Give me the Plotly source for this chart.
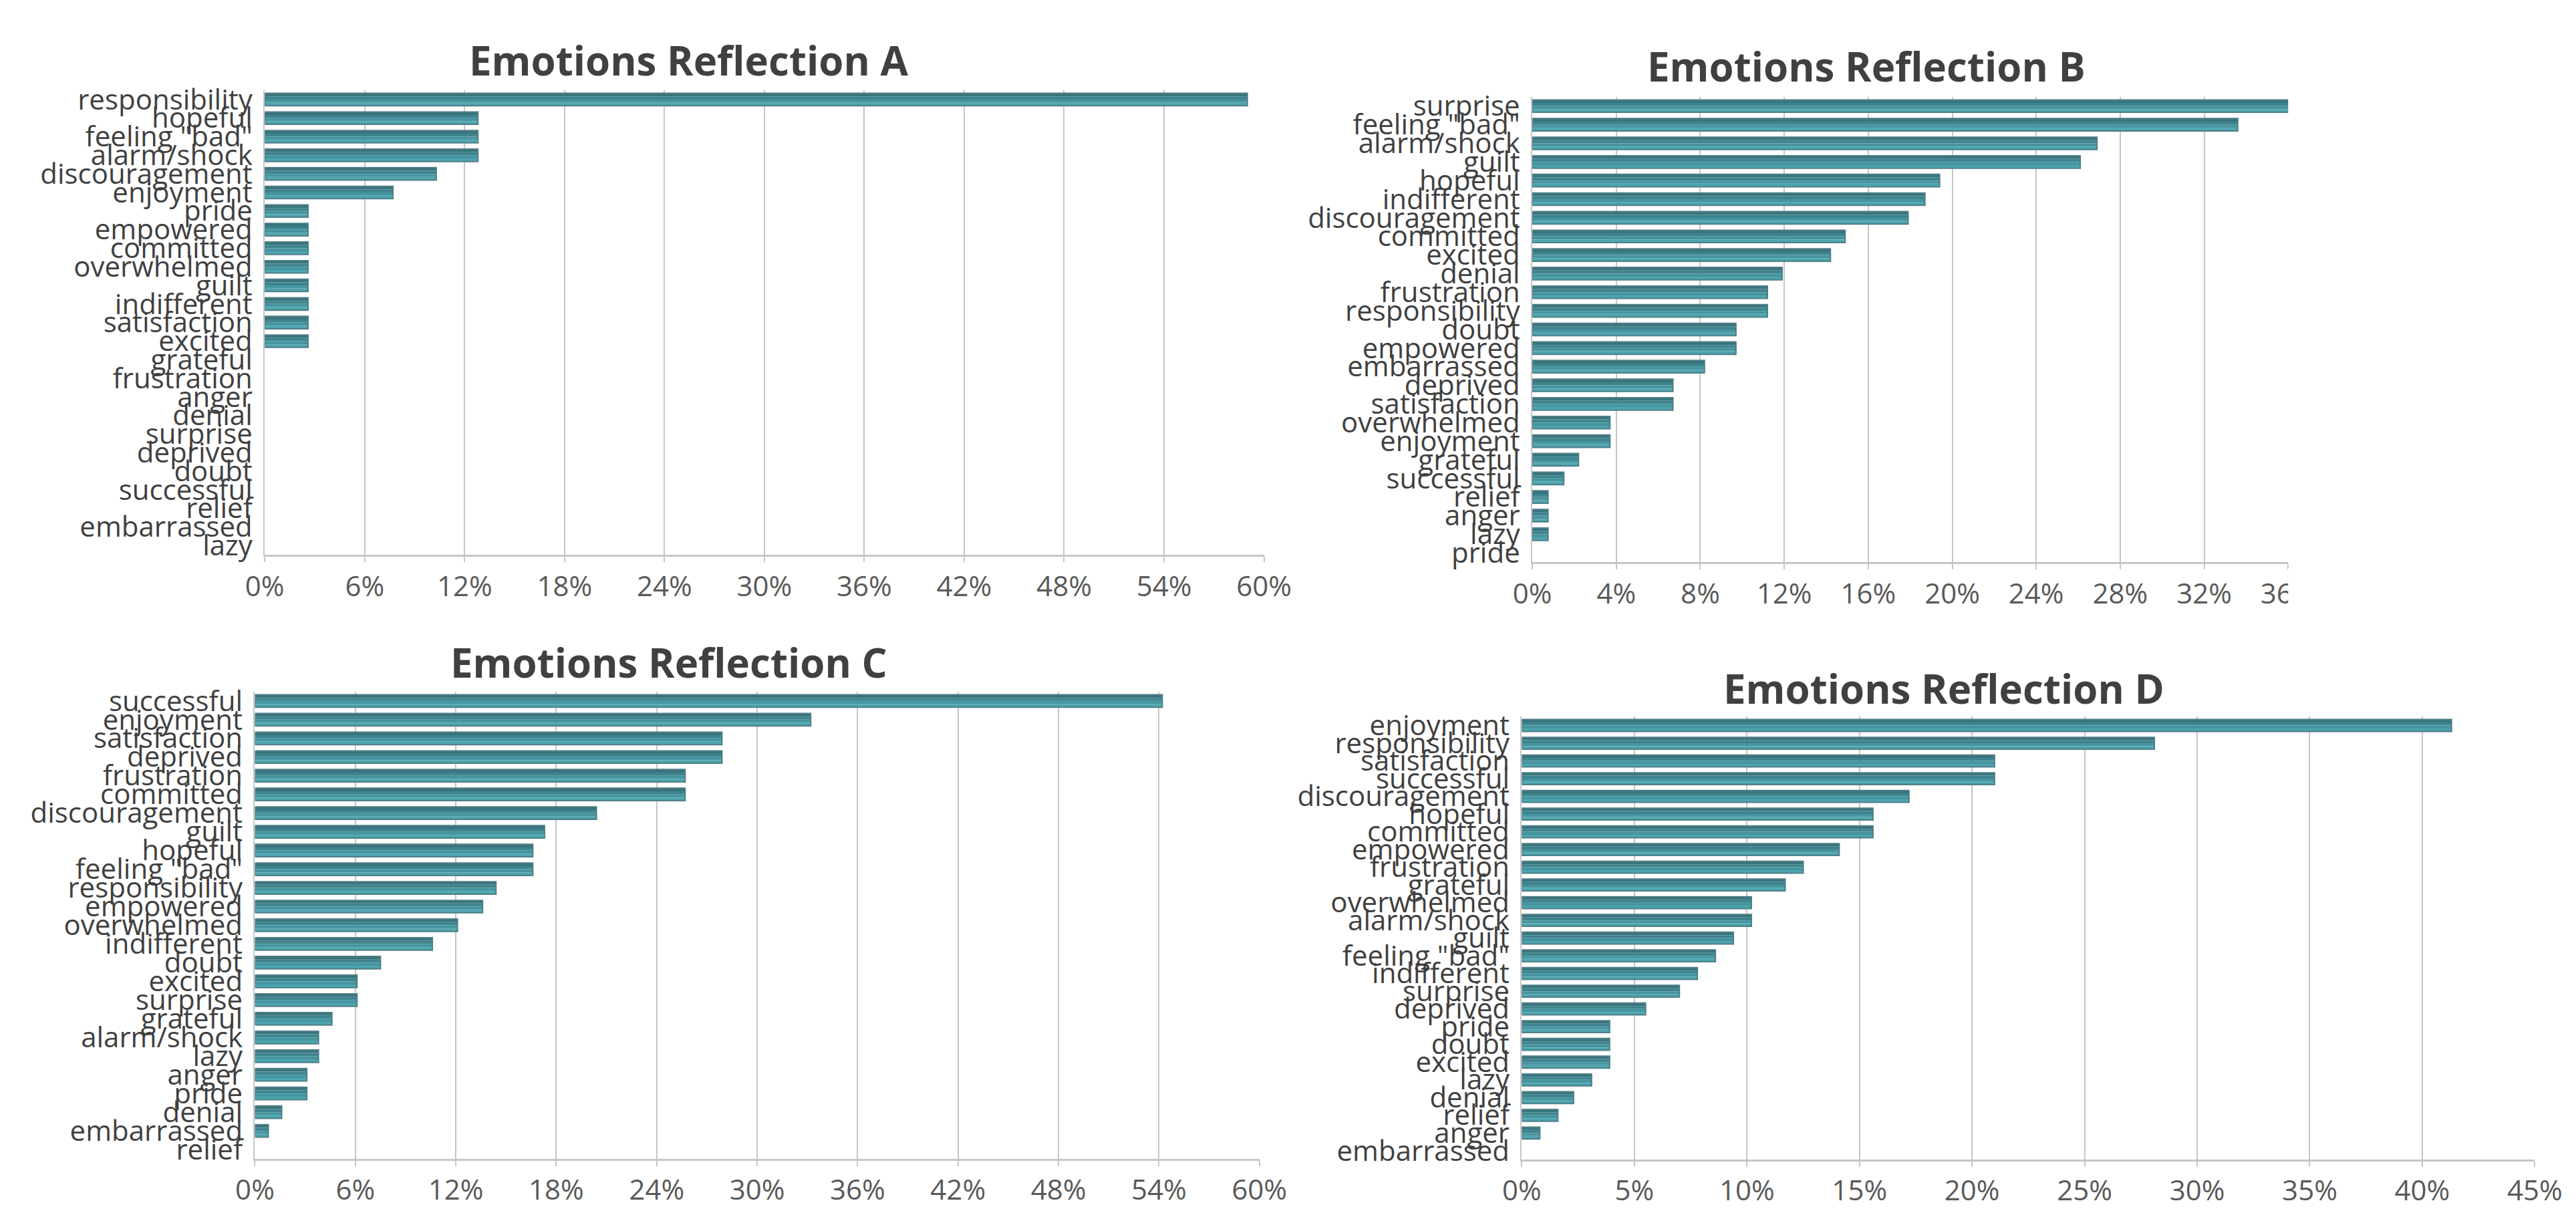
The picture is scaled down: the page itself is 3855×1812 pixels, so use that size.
import plotly.graph_objects as go

W, H = 3855, 1812

# ---------------- data (percent) ----------------
cats_a = ["responsibility", "hopeful", 'feeling "bad"', "alarm/shock", "discouragement",
          "enjoyment", "pride", "empowered", "committed", "overwhelmed", "guilt",
          "indifferent", "satisfaction", "excited", "grateful", "frustration", "anger",
          "denial", "surprise", "deprived", "doubt", "successful", "relief",
          "embarrassed", "lazy"]
vals_a = [59.0, 12.8, 12.8, 12.8, 10.3, 7.7, 2.6, 2.6, 2.6, 2.6, 2.6, 2.6, 2.6, 2.6,
          0, 0, 0, 0, 0, 0, 0, 0, 0, 0, 0]

cats_b = ["surprise", 'feeling "bad"', "alarm/shock", "guilt", "hopeful", "indifferent",
          "discouragement", "committed", "excited", "denial", "frustration",
          "responsibility", "doubt", "empowered", "embarrassed", "deprived",
          "satisfaction", "overwhelmed", "enjoyment", "grateful", "successful",
          "relief", "anger", "lazy", "pride"]
vals_b = [36.6, 33.6, 26.9, 26.1, 19.4, 18.7, 17.9, 14.9, 14.2, 11.9, 11.2, 11.2,
          9.7, 9.7, 8.2, 6.7, 6.7, 3.7, 3.7, 2.2, 1.5, 0.75, 0.75, 0.75, 0]

cats_c = ["successful", "enjoyment", "satisfaction", "deprived", "frustration",
          "committed", "discouragement", "guilt", "hopeful", 'feeling "bad"',
          "responsibility", "empowered", "overwhelmed", "indifferent", "doubt",
          "excited", "surprise", "grateful", "alarm/shock", "lazy", "anger", "pride",
          "denial", "embarrassed", "relief"]
vals_c = [54.2, 33.2, 27.9, 27.9, 25.7, 25.7, 20.4, 17.3, 16.6, 16.6, 14.4, 13.6,
          12.1, 10.6, 7.5, 6.1, 6.1, 4.6, 3.8, 3.8, 3.1, 3.1, 1.6, 0.8, 0]

cats_d = ["enjoyment", "responsibility", "satisfaction", "successful", "discouragement",
          "hopeful", "committed", "empowered", "frustration", "grateful", "overwhelmed",
          "alarm/shock", "guilt", 'feeling "bad"', "indifferent", "surprise", "deprived",
          "pride", "doubt", "excited", "lazy", "denial", "relief", "anger", "embarrassed"]
vals_d = [41.3, 28.1, 21.0, 21.0, 17.2, 15.6, 15.6, 14.1, 12.5, 11.7, 10.2, 10.2,
          9.4, 8.6, 7.8, 7.0, 5.5, 3.9, 3.9, 3.9, 3.1, 2.3, 1.6, 0.8, 0]

titles = ["Emotions Reflection A", "Emotions Reflection B",
          "Emotions Reflection C", "Emotions Reflection D"]
x_max = [0.60, 0.36, 0.60, 0.45]
x_dtick = [0.06, 0.04, 0.06, 0.05]

# ---------------- layout geometry (pixels) ----------------
# (left, right, top, bottom) of each plot area
boxes = [(374, 1897, 120, 827),
         (2306, 3458, 130, 838),
         (359, 1890, 1035, 1746),
         (2290, 3834, 1073, 1747)]
title_pos = [(1020, 74), (2815, 83), (990, 990), (2933, 1030)]

FONT = "Open Sans, Segoe UI, Noto Sans, sans-serif"
GRID = "#c6c6c6"
stripe_cols = ["#39747d", "#3e848e", "#45959f", "#4ca5b0"]
BAR_W = 0.67

fig = go.Figure()
data = [(cats_a, vals_a), (cats_b, vals_b), (cats_c, vals_c), (cats_d, vals_d)]

for i, (cats, vals) in enumerate(data):
    xs = [v / 100 for v in vals]
    xa = "x" if i == 0 else f"x{i+1}"
    ya = "y" if i == 0 else f"y{i+1}"
    n = len(stripe_cols)
    sw = BAR_W / n
    for k, col in enumerate(stripe_cols):
        fig.add_trace(go.Bar(
            x=xs, y=cats, orientation="h", xaxis=xa, yaxis=ya,
            width=sw, offset=-BAR_W / 2 + k * sw,
            marker=dict(color=col, line=dict(width=0)),
            showlegend=False, hoverinfo="skip"))
    fig.add_trace(go.Bar(
        x=[v if v > 0 else None for v in xs], y=cats, orientation="h",
        xaxis=xa, yaxis=ya, width=BAR_W, offset=-BAR_W / 2,
        marker=dict(color="rgba(0,0,0,0)", line=dict(color="#4f7f86", width=2)),
        showlegend=False, hovertemplate="%{y}: %{x:.1%}<extra></extra>"))

    l, r, t, b = boxes[i]
    xkey = "xaxis" if i == 0 else f"xaxis{i+1}"
    ykey = "yaxis" if i == 0 else f"yaxis{i+1}"
    fig.update_layout(**{
        xkey: dict(domain=[l / W, r / W], anchor=ya, range=[0, x_max[i]],
                   tickmode="linear", tick0=0, dtick=x_dtick[i], tickformat=".0%",
                   showgrid=True, gridcolor=GRID, gridwidth=2, zeroline=False,
                   showline=True, linecolor=GRID, linewidth=3,
                   ticks="outside", ticklen=8, tickwidth=2, tickcolor=GRID,
                   tickfont=dict(family=FONT, size=42, color="#595959"),
                   fixedrange=True),
        ykey: dict(domain=[1 - b / H, 1 - t / H], anchor=xa,
                   autorange="reversed", tickmode="array", tickvals=cats,
                   ticktext=cats, showgrid=False, zeroline=False,
                   showline=True, linecolor=GRID, linewidth=2, ticks="",
                   ticklabelstandoff=8,
                   tickfont=dict(family=FONT, size=42, color="#404040"),
                   fixedrange=True),
    })
    tx, ty = title_pos[i]
    fig.add_annotation(x=tx / W, y=1 - ty / H, xref="paper", yref="paper",
                       text=f"<b>{titles[i]}</b>", showarrow=False,
                       xanchor="center", yanchor="middle",
                       font=dict(family=FONT, size=60, color="#404040"))

# Chart B's right-most tick label is cut at the plot edge in the original
fig.add_shape(type="rect", xref="paper", yref="paper", layer="above",
              x0=3458 / W, x1=3560 / W, y0=1 - 915 / H, y1=1 - 847 / H,
              fillcolor="white", line=dict(width=0))

fig.update_layout(width=W, height=H, margin=dict(l=0, r=0, t=0, b=0),
                  paper_bgcolor="white", plot_bgcolor="white",
                  barmode="overlay", showlegend=False)

fig.write_html("out.html")
